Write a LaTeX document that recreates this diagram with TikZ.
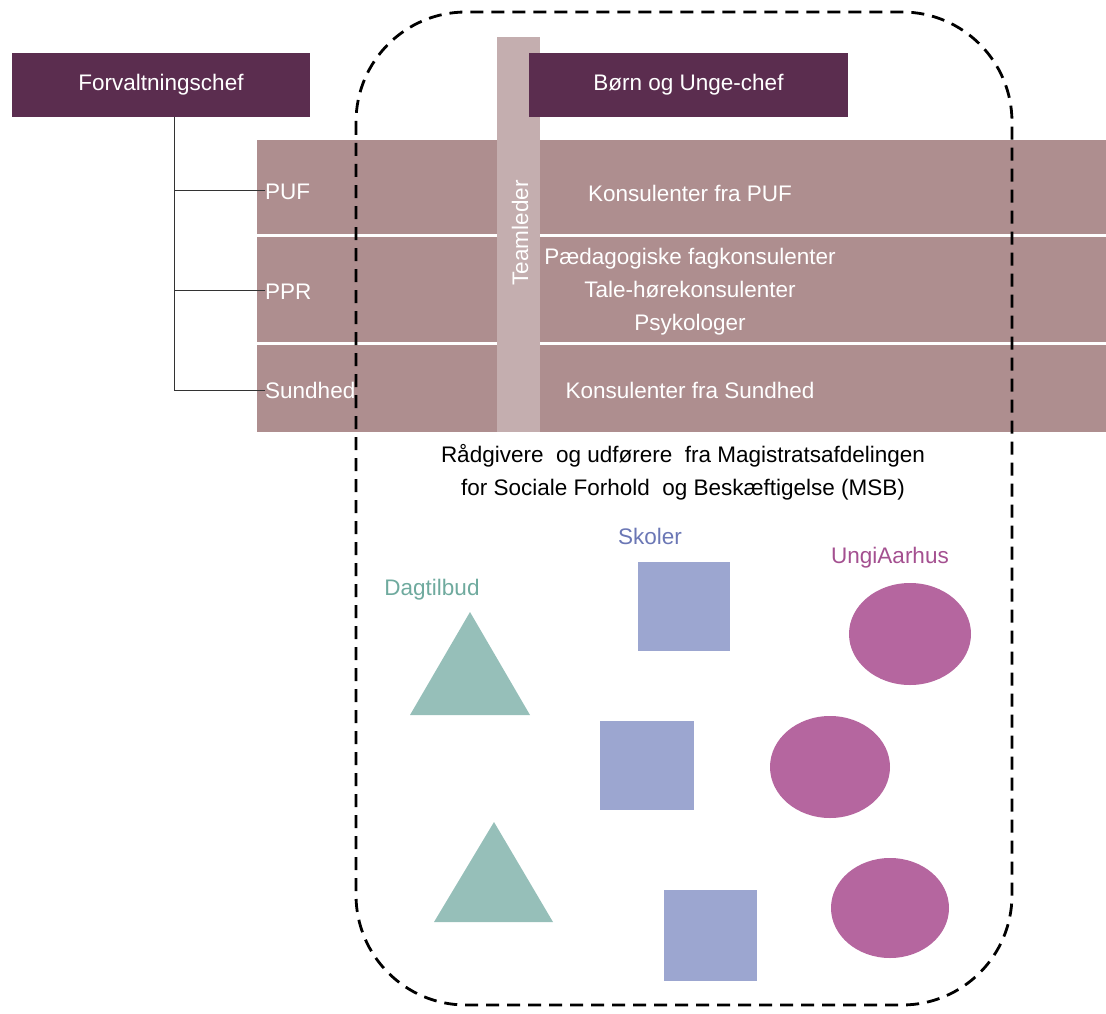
\documentclass[tikz,border=0pt]{standalone}
\usepackage{fontspec}
\setmainfont{Liberation Sans}
\usetikzlibrary{positioning}

\definecolor{chefplum}{HTML}{5B2D4F}
\definecolor{bandrose}{HTML}{AE8E8F}
\definecolor{teamrose}{HTML}{C4AEAF}
\definecolor{dagteal}{HTML}{96BFB9}
\definecolor{dagtext}{HTML}{6FAA9E}
\definecolor{skoleblue}{HTML}{9CA6D0}
\definecolor{skoletext}{HTML}{6B77B5}
\definecolor{ungpink}{HTML}{B5669F}
\definecolor{ungtext}{HTML}{A45090}

\begin{document}
\begin{tikzpicture}[
            x = 1pt, y = -1pt, % pixel grid, y grows downwards
            font = \fontsize{22.5}{27}\selectfont,
            inner sep = 0pt
        ]

        \tikzstyle{chefbox}=[
            fill = chefplum,
            text = white,
            minimum height = 64pt
        ]
        \tikzstyle{bandrow}=[
            fill = bandrose,
            minimum width = 849pt,
            anchor = north west
        ]
        \tikzstyle{rowlabel}=[
            text = white,
            anchor = west
        ]
        \tikzstyle{rowtext}=[
            text = white,
            align = center
        ]
        \tikzstyle{tree}=[
            draw = black!80,
            line width = 1pt
        ]

        \useasboundingbox (0,0) rectangle (1106,1014);

        % the three bands
        \node[bandrow, minimum height = 94pt] (puf) at (257,140) {};
        \node[bandrow, minimum height = 105pt] (ppr) at (257,237) {};
        \node[bandrow, minimum height = 87pt] (sund) at (257,345) {};

        \node[rowlabel] (puflab) at (265,192) {PUF};
        \node[rowlabel] (pprlab) at (265,292) {PPR};
        \node[rowlabel] (sundlab) at (265,390) {Sundhed};

        \node[rowtext] (puftxt) at (690,193) {Konsulenter fra PUF};
        \node[rowtext] (pprtxt) at (690,292) {Pædagogiske fagkonsulenter\\[6pt]Tale-hørekonsulenter\\[6pt]Psykologer};
        \node[rowtext] (sundtxt) at (690,390) {Konsulenter fra Sundhed};

        % teamleder bar
        \node[fill = teamrose, minimum width = 43pt, minimum height = 395pt] (team) at (518.5,234.5) {};
        \node[text = white, rotate = 90] (teamlab) at (520,233) {Teamleder};

        % chefs
        \node[chefbox, minimum width = 298pt] (chef) at (161,85) {Forvaltningschef};
        \node[chefbox, minimum width = 319pt] (buchef) at (688.5,85) {Børn og Unge-chef};

        % org tree
        \coordinate (trunk) at (174,117);
        \draw[tree] (trunk) |- (puflab.west |- 0,190);
        \draw[tree] (trunk) |- (pprlab.west |- 0,290);
        \draw[tree] (trunk) |- (sundlab.west |- 0,390);

        % dashed frame
        \draw[line width = 2.8pt, dash pattern = on 13pt off 8pt, rounded corners = 110pt]
            (356,12) rectangle (1012,1005);

        \node[align = center] (msb) at (683,472) {Rådgivere\ \ og udførere\ \ fra Magistratsafdelingen\\[6pt]for Sociale Forhold\ \ og Beskæftigelse (MSB)};

        % institutions
        \node[text = dagtext] (dag) at (432,590) {Dagtilbud};
        \node[text = skoletext] (skole) at (650,536) {Skoler};
        \node[text = ungtext] (ung) at (890,558) {UngiAarhus};

        \fill[dagteal] (470,612) -- (530,715) -- (410,715) -- cycle;
        \fill[dagteal] (494,822) -- (553,922) -- (434,922) -- cycle;

        \fill[skoleblue] (638,562) rectangle (730,651);
        \fill[skoleblue] (600,721) rectangle (694,810);
        \fill[skoleblue] (664,890) rectangle (757,981);

        \fill[ungpink] (910,634) ellipse [x radius = 61, y radius = 51];
        \fill[ungpink] (830,767) ellipse [x radius = 60, y radius = 51];
        \fill[ungpink] (890,908) ellipse [x radius = 59, y radius = 50];
     \end{tikzpicture}
\end{document}
